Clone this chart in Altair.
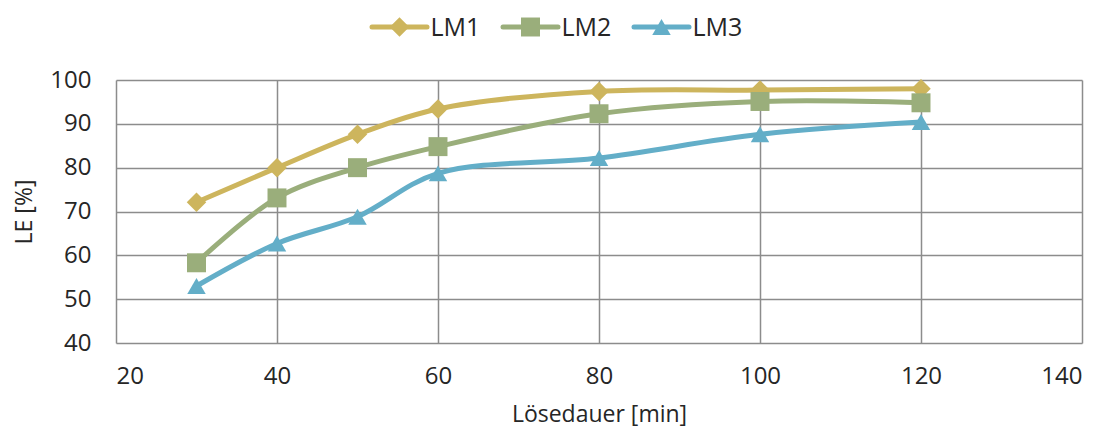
import altair as alt
import pandas as pd

# Dissolution time [min] and dissolution yield LE [%] per solvent
minutes = [30, 40, 50, 60, 80, 100, 120]
lm1 = [72.1, 80.0, 87.6, 93.4, 97.4, 97.7, 98.0]
lm2 = [58.3, 73.1, 80.0, 84.8, 92.3, 95.1, 94.8]
lm3 = [53.0, 62.7, 68.8, 78.7, 82.2, 87.6, 90.4]

series_names = ["LM1", "LM2", "LM3"]
series_colors = ["#CDB55D", "#9AAE7B", "#63AEC8"]
series_shapes = ["diamond", "square", "triangle-up"]
marker_sizes = [380, 340, 380]

x_ticks = [20, 40, 60, 80, 100, 120, 140]
y_ticks = [40, 50, 60, 70, 80, 90, 100]

rows = []
for k, (name, values) in enumerate(zip(series_names, [lm1, lm2, lm3])):
    for m, v in zip(minutes, values):
        rows.append({"Serie": name, "Lösedauer": m, "LE": v, "order": k})
df = pd.DataFrame(rows)
legend_df = pd.DataFrame({"Serie": series_names})

FONT = "Open Sans"
TEXT = "#262626"
GRID = "#8C8C8C"

x_enc = alt.X(
    "Lösedauer:Q",
    scale=alt.Scale(domain=[20, 140], nice=False, zero=False),
    axis=alt.Axis(values=x_ticks, title="Lösedauer [min]", grid=True,
                  labelPadding=40, labelBaseline="alphabetic",
                  titleX=483, titleY=78, titleBaseline="alphabetic",
                  titleAlign="center"),
)
y_enc = alt.Y(
    "LE:Q",
    scale=alt.Scale(domain=[40, 100], nice=False, zero=False),
    axis=alt.Axis(values=y_ticks, title="LE [%]", grid=True,
                  labelPadding=25, titleX=-85, titleY=131.5,
                  titleBaseline="alphabetic", titleAlign="center"),
)
stroke_enc = alt.Stroke("Serie:N", scale=alt.Scale(domain=series_names, range=series_colors),
                        legend=None)
fill_enc = alt.Fill("Serie:N", scale=alt.Scale(domain=series_names, range=series_colors),
                    legend=None)
shape_enc = alt.Shape("Serie:N", scale=alt.Scale(domain=series_names, range=series_shapes),
                      legend=None)
size_enc = alt.Size("Serie:N", scale=alt.Scale(domain=series_names, range=marker_sizes),
                    legend=None)

lines = alt.Chart(df).mark_line(
    strokeWidth=5, interpolate="catmull-rom", strokeCap="round"
).encode(
    x=x_enc, y=y_enc, stroke=stroke_enc,
    detail="Serie:N",
    order=alt.Order("Lösedauer:Q"),
)

points = alt.Chart(df).mark_point(filled=True, opacity=1).encode(
    x=x_enc, y=y_enc, fill=fill_enc, shape=shape_enc, size=size_enc,
    order=alt.Order("order:Q"),
)

# Legend row above the plot: line segment with marker, then the series name
legend_x = alt.X("Serie:N", axis=None,
                 scale=alt.Scale(type="point", domain=series_names,
                                 range=[283.5, 545.5], padding=0))
legend_y = alt.value(-53)
leg_lines = alt.Chart(legend_df).mark_point(
    shape="stroke", size=3025, strokeWidth=5, filled=False, opacity=1, strokeCap="round"
).encode(x=legend_x, y=legend_y, stroke=stroke_enc)
leg_marks = alt.Chart(legend_df).mark_point(filled=True, opacity=1).encode(
    x=legend_x, y=legend_y, fill=fill_enc, shape=shape_enc, size=size_enc
)
leg_text = alt.Chart(legend_df).mark_text(
    align="left", baseline="middle", dx=31, dy=1,
    font=FONT, fontSize=25, color=TEXT,
).encode(x=legend_x, y=legend_y, text="Serie:N")

chart = alt.layer(
    alt.layer(lines, points),
    alt.layer(leg_lines, leg_marks, leg_text),
).resolve_scale(x="independent").properties(
    width=966, height=263,
    autosize=alt.AutoSizeParams(type="none"),
    padding={"left": 116, "top": 80, "right": 27, "bottom": 84},
    background="white",
).configure_axis(
    gridColor=GRID, gridWidth=1.5, gridOpacity=1,
    domain=False, ticks=False, tickSize=0,
    labelFont=FONT, labelFontSize=24, labelColor=TEXT,
    titleFont=FONT, titleFontSize=23, titleColor=TEXT, titleFontWeight="normal",
).configure_view(strokeWidth=0)

chart.save("out.html", embed_options={"renderer": "svg", "actions": False})
